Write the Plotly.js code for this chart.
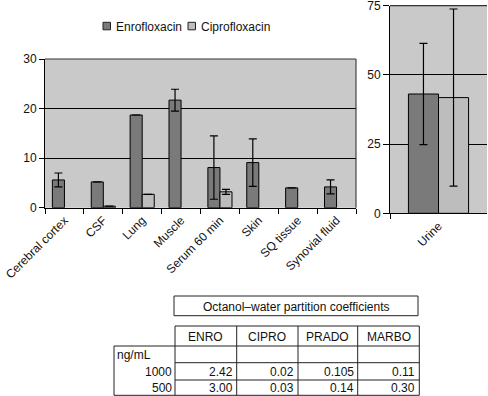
<!DOCTYPE html>
<html>
<head>
<meta charset="utf-8">
<script src="https://cdn.plot.ly/plotly-3.0.1.min.js"></script>
<style>html,body{margin:0;padding:0;background:#fff;}#chart{width:488px;height:396px;}</style>
</head>
<body>
<div id="chart"></div>
<script>
// ---- data ----
const categories = ['Cerebral cortex', 'CSF', 'Lung', 'Muscle', 'Serum 60 min', 'Skin', 'SQ tissue', 'Synovial fluid'];
const enroValues = [5.6, 5.2, 18.7, 21.7, 8.1, 9.1, 4.0, 4.2];
const enroErrors = [1.4, null, null, 2.2, 6.4, 4.8, null, 1.4];
const ciproValues = [null, 0.3, 2.7, null, 3.2, null, null, null];
const ciproErrors = [null, null, null, null, 0.5, null, null, null];

const urineCategory = ['Urine'];
const urineEnro = [43.1];
const urineEnroErr = [18.3];
const urineCipro = [41.8];
const urineCiproErr = [32.0];

const seriesNames = ['Enrofloxacin', 'Ciprofloxacin'];
const leftTicks = [0, 10, 20, 30];
const rightTicks = [0, 25, 50, 75];

const tableTitle = 'Octanol\u2013water partition coefficients';
const tableColumns = ['ENRO', 'CIPRO', 'PRADO', 'MARBO'];
const tableUnit = 'ng/mL';
const tableRowLabels = ['1000', '500'];
const tableRow1000 = ['2.42', '0.02', '0.105', '0.11'];
const tableRow500 = ['3.00', '0.03', '0.14', '0.30'];

// ---- styling ----
const W = 488, H = 396;
const FONT = 'Liberation Sans, Arial, Helvetica, sans-serif';
const TXT = '#111';
const ENRO_COLOR = '#7a7a7a';
const CIPRO_COLOR = '#bdbdbd';
const SERIES_COLORS = [ENRO_COLOR, CIPRO_COLOR];
const BG = '#c9c9c9';
const px = x => x / W;
const py = y => 1 - y / H;

function errCfg(arr) {
  return {type: 'data', array: arr, visible: true, color: '#000', thickness: 1.2, width: 4};
}

const traces = [
  {type: 'bar', name: seriesNames[0], x: categories, y: enroValues, error_y: errCfg(enroErrors),
   marker: {color: ENRO_COLOR, line: {color: '#000', width: 1}}, xaxis: 'x', yaxis: 'y'},
  {type: 'bar', name: seriesNames[1], x: categories, y: ciproValues, error_y: errCfg(ciproErrors),
   marker: {color: CIPRO_COLOR, line: {color: '#000', width: 1}}, xaxis: 'x', yaxis: 'y'},
  {type: 'bar', name: seriesNames[0], x: urineCategory, y: urineEnro, error_y: errCfg(urineEnroErr),
   marker: {color: ENRO_COLOR, line: {color: '#000', width: 1}}, xaxis: 'x2', yaxis: 'y2'},
  {type: 'bar', name: seriesNames[1], x: urineCategory, y: urineCipro, error_y: errCfg(urineCiproErr),
   marker: {color: CIPRO_COLOR, line: {color: '#000', width: 1}}, xaxis: 'x2', yaxis: 'y2'}
];

const shapes = [];
const annotations = [];
function txt(text, x, y, xanchor) {
  annotations.push({text: text, xref: 'paper', yref: 'paper', x: px(x), y: py(y), xanchor: xanchor, yanchor: 'middle',
    showarrow: false, font: {family: FONT, size: 12, color: TXT}});
}

// ---- legend (series key) ----
const legendSquares = [103, 188];
const legendTexts = [114, 199];
seriesNames.forEach((name, i) => {
  shapes.push({type: 'rect', xref: 'paper', yref: 'paper', x0: px(legendSquares[i]), x1: px(legendSquares[i] + 7.5),
    y0: py(29.8), y1: py(22.3), fillcolor: SERIES_COLORS[i], line: {color: '#222', width: 1}});
  txt(name, legendTexts[i], 26.5, 'left');
});

// ---- table drawn with shapes + annotations ----
const colEdges = [114, 175, 236.7, 298, 357.7, 419.3];
const rowEdges = [326, 346, 362.7, 380, 395.3];
const LC = '#222';
function line(x0, y0, x1, y1) {
  shapes.push({type: 'line', xref: 'paper', yref: 'paper', x0: px(x0), y0: py(y0), x1: px(x1), y1: py(y1),
    line: {color: LC, width: 1}});
}
shapes.push({type: 'rect', xref: 'paper', yref: 'paper', x0: px(174), y0: py(296), x1: px(418), y1: py(315.7),
  line: {color: LC, width: 1}, fillcolor: 'rgba(0,0,0,0)'});
line(colEdges[1], rowEdges[0], colEdges[5], rowEdges[0]);
line(colEdges[0], rowEdges[1], colEdges[5], rowEdges[1]);
line(colEdges[1], rowEdges[2], colEdges[5], rowEdges[2]);
line(colEdges[1], rowEdges[3], colEdges[5], rowEdges[3]);
line(colEdges[0], rowEdges[4], colEdges[5], rowEdges[4]);
line(colEdges[0], rowEdges[1], colEdges[0], rowEdges[4]);
for (let i = 1; i < colEdges.length; i++) line(colEdges[i], rowEdges[0], colEdges[i], rowEdges[4]);

txt(tableTitle, 296, 306.5, 'center');
tableColumns.forEach((c, i) => txt(c, (colEdges[i + 1] + colEdges[i + 2]) / 2, 336.5, 'center'));
txt(tableUnit, 115, 354.5, 'left');
const rowCenters = [371.5, 388];
const rowData = [tableRow1000, tableRow500];
tableRowLabels.forEach((lab, r) => {
  txt(lab, colEdges[1] - 1, rowCenters[r], 'right');
  rowData[r].forEach((v, i) => txt(v, colEdges[i + 2] - 2, rowCenters[r], 'right'));
});

const axFont = {family: FONT, size: 12, color: TXT};
const layout = {
  width: W, height: H,
  margin: {l: 0, r: 0, t: 0, b: 0},
  paper_bgcolor: '#fff',
  font: {family: FONT, size: 12, color: TXT},
  barmode: 'group',
  bargap: 0.38,
  bargroupgap: 0,
  showlegend: false,
  xaxis: {domain: [px(45), px(356)], anchor: 'y', type: 'category', tickangle: -45, tickfont: axFont,
    showline: true, linecolor: '#000', linewidth: 1, mirror: false, ticks: 'outside', tickson: 'boundaries',
    ticklen: 5, tickcolor: '#000', showgrid: false, zeroline: false},
  yaxis: {domain: [py(207.7), py(59)], anchor: 'x', range: [0, 30], tickmode: 'array', tickvals: leftTicks,
    tickfont: axFont, ticklabeloverflow: 'allow',
    showline: true, linecolor: '#000', linewidth: 1, ticks: 'outside', ticklen: 5, tickcolor: '#000',
    showgrid: true, gridcolor: '#000', gridwidth: 1, zeroline: false},
  xaxis2: {domain: [px(390), px(487)], anchor: 'y2', type: 'category', tickangle: -45, tickfont: axFont,
    showline: true, linecolor: '#000', linewidth: 1, ticks: 'outside', tickson: 'boundaries',
    ticklen: 5, tickcolor: '#000', showgrid: false, zeroline: false},
  yaxis2: {domain: [py(213.3), py(5.7)], anchor: 'x2', range: [0, 75], tickmode: 'array', tickvals: rightTicks,
    tickfont: axFont, ticklabeloverflow: 'allow',
    showline: true, linecolor: '#000', linewidth: 1, ticks: 'outside', ticklen: 6, tickcolor: '#000',
    showgrid: true, gridcolor: '#000', gridwidth: 1, zeroline: false},
  shapes: shapes,
  annotations: annotations
};

layout.shapes.unshift(
  {type: 'rect', xref: 'x domain', yref: 'y domain', x0: 0, x1: 1, y0: 0, y1: 1, layer: 'below',
   fillcolor: BG, line: {width: 0}},
  {type: 'rect', xref: 'x2 domain', yref: 'y2 domain', x0: 0, x1: 1, y0: 0, y1: 1, layer: 'below',
   fillcolor: BG, line: {width: 0}},
  {type: 'line', xref: 'x domain', yref: 'y domain', x0: 0, x1: 1, y0: 1, y1: 1, line: {color: '#333', width: 1.2}},
  {type: 'line', xref: 'x domain', yref: 'y domain', x0: 1, x1: 1, y0: 0, y1: 1, line: {color: '#444', width: 1.2}},
  {type: 'line', xref: 'x2 domain', yref: 'y2 domain', x0: 0, x1: 1, y0: 1, y1: 1, line: {color: '#333', width: 1.2}}
);

Plotly.newPlot('chart', traces, layout, {displayModeBar: false, staticPlot: true});
</script>
</body>
</html>
